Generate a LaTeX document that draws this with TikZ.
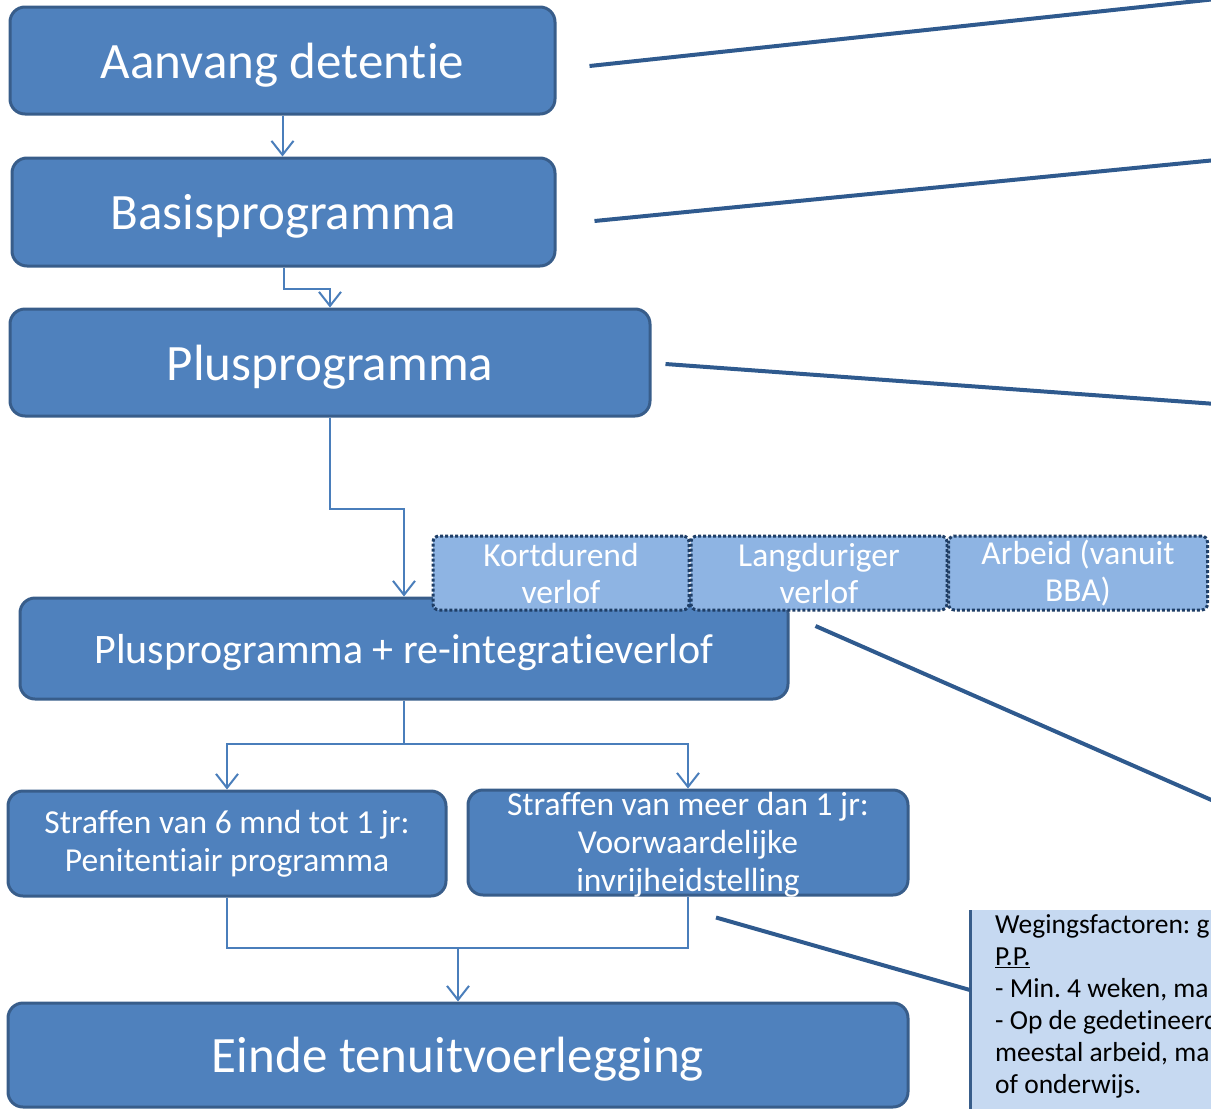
\documentclass[tikz,border=0pt]{standalone}
\usepackage{fontspec}
\setmainfont{Carlito}[Ligatures=NoCommon]
\usepackage{tikz}
\usetikzlibrary{positioning,arrows.meta}
\frenchspacing

\definecolor{stagefill}{HTML}{4F81BD}
\definecolor{stageline}{HTML}{385D8A}
\definecolor{flowline}{HTML}{4A7EBB}
\definecolor{linkline}{HTML}{2F5A8E}
\definecolor{leavefill}{HTML}{8EB4E3}
\definecolor{leaveline}{HTML}{1F3E66}
\definecolor{notefill}{HTML}{C6D9F1}

\begin{document}
\begin{tikzpicture}[x=1pt,y=-1pt,
    stage/.style={draw=stageline,line width=3pt,fill=stagefill,rounded corners=15pt,
                  text=white,inner sep=0pt,align=center},
    bigstage/.style={stage,font=\fontsize{51}{60}\selectfont,text height=35pt,text depth=0pt},
    leave/.style={draw=leaveline,line width=3pt,dash pattern=on 3pt off 2pt,fill=leavefill,
                  rounded corners=6pt,text=white,inner sep=0pt,align=center,
                  font=\fontsize{33.5}{37}\selectfont,minimum width=256pt,minimum height=74pt},
    flow/.style={draw=flowline,line width=2pt,-{Straight Barb[length=14pt,width=22pt,line width=2pt]}},
    flowjoin/.style={draw=flowline,line width=2pt},
    link/.style={draw=linkline,line width=4pt}]
    \useasboundingbox (0,0) rectangle (1211,1109);
    \clip (0,0) rectangle (1211,1109);

    % Main stages
    \node[bigstage,minimum width=545pt,minimum height=107pt] (start) at (282.5,60.5) {Aanvang detentie};
    \node[bigstage,minimum width=543pt,minimum height=108pt] (basis) at (283.5,212) {Basisprogramma};
    \node[bigstage,minimum width=640pt,minimum height=107pt] (plus) at (330,362.5) {Plusprogramma};
    \node[stage,minimum width=768pt,minimum height=101pt,font=\fontsize{42}{50}\selectfont,
          text height=30pt,text depth=0pt]
        (plusre) at (404,648.5) {Plusprogramma + re-integratieverlof};
    \node[stage,minimum width=438pt,minimum height=105pt,font=\fontsize{33.5}{38}\selectfont]
        (pp) at (227,843.5) {Straffen van 6 mnd tot 1 jr:\\Penitentiair programma};
    \node[stage,minimum width=440pt,minimum height=105pt] (vi) at (688,842.5) {};
    \node[text=white,align=center,inner sep=0pt,font=\fontsize{33.5}{38}\selectfont]
        (vitext) at ([yshift=-2pt]vi.center) {Straffen van meer dan 1 jr:\\Voorwaardelijke\\invrijheidstelling};
    \node[bigstage,minimum width=900pt,minimum height=104pt] (einde) at (458,1055) {Einde tenuitvoerlegging};

    % Leave types
    \node[leave] (kort) at (561,573) {Kortdurend\\verlof};
    \node[leave] (lang) at (819,573) {Langduriger\\verlof};
    \node[leave,minimum width=259pt] (arbeid) at (1078,573) {Arbeid (vanuit\\BBA)};

    % Note
    \node[fill=notefill,minimum width=300pt,minimum height=260pt,anchor=north west,inner sep=0pt]
        (note) at (970,910) {};
    \draw[draw=stageline,line width=3pt] (note.north west) -- (note.south west);
    \node[anchor=north west,align=left,inner sep=0pt,font=\fontsize{27.5}{32}\selectfont]
        (notetext) at (995,914) {Wegingsfactoren: g\\\underline{P.P.}\\- Min. 4 weken, ma\\
        - Op de gedetineerd\\meestal arbeid, ma\\of onderwijs.};

    % Flow
    \draw[flow] (start.south) -- (start.south |- basis.north);
    \draw[flow] (basis.south) -- ++(0,21) -| (plus.north);
    \draw[flow] (plus.south) -- ++(0,91) -| (plusre.north);
    \coordinate (split) at (404,744);
    \coordinate (merge) at (458,948);
    \draw[flowjoin] (plusre.south) -- (split);
    \draw[flow] (split) -| (pp.north);
    \draw[flow] (split) -| (vi.north);
    \draw[flowjoin] (pp.south) |- (merge) -| (vi.south);
    \draw[flow] (merge) -- (einde.north);

    % Links to the right
    \coordinate (endA) at (1216,-1);
    \coordinate (endB) at (1216,160);
    \coordinate (endC) at (1216,404);
    \coordinate (endD) at (1216,802);
    \draw[link] ([xshift=33pt,yshift=-5.5pt]start.east) -- (endA);
    \draw[link] ([xshift=38pt,yshift=-9pt]basis.east) -- (endB);
    \draw[link] ([xshift=14pt,yshift=-1.5pt]plus.east) -- (endC);
    \draw[link] ([xshift=26pt,yshift=22.5pt]plusre.east) -- (endD);
    \draw[link] ([xshift=28pt,yshift=-21pt]vi.south) -- ([yshift=-80pt]note.north west);
\end{tikzpicture}
\end{document}
